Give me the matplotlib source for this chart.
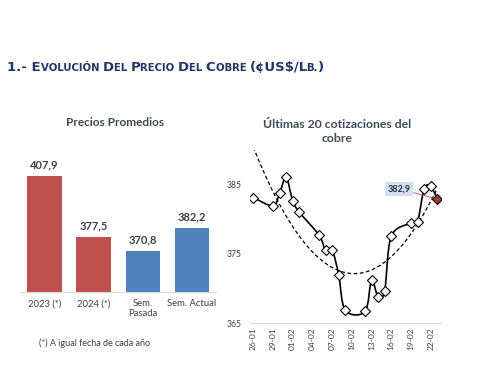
import numpy as np
import pandas as pd
import matplotlib
matplotlib.use("Agg")
from matplotlib import pyplot as plt
import matplotlib.dates as mdates
from matplotlib.path import Path
from matplotlib.patches import PathPatch

# --- data ---
bar_labels = ["2023 (*)", "2024 (*)", "Sem.\nPasada", "Sem. Actual"]
bar_values = [407.9, 377.5, 370.8, 382.2]
bar_colors = ["#C0504D", "#C0504D", "#4F81BD", "#4F81BD"]

quote_dates = ["2024-01-26", "2024-01-29", "2024-01-30", "2024-01-31", "2024-02-01",
               "2024-02-02", "2024-02-05", "2024-02-06", "2024-02-07", "2024-02-08",
               "2024-02-09", "2024-02-12", "2024-02-13", "2024-02-14", "2024-02-15",
               "2024-02-16", "2024-02-19", "2024-02-20", "2024-02-21", "2024-02-22",
               "2024-02-23"]
quote_values = [383.1, 381.9, 383.7, 386.0, 382.6, 381.0, 377.7, 375.5, 375.5, 372.0,
                366.9, 366.7, 371.2, 368.8, 369.7, 377.5, 379.4, 379.6, 384.3, 384.7,
                382.9]

txt = "#404040"
title_col = "#1F3864"
chart_font = "Lato"

fig = plt.figure(figsize=(4.91, 3.82), dpi=100)

# --- small caps title ---
big, small = 9.5, 7.3
pieces = [("1.- E", big), ("VOLUCIÓN ", small), ("D", big), ("EL ", small),
          ("P", big), ("RECIO ", small), ("D", big), ("EL ", small),
          ("C", big), ("OBRE ", small), ("(¢US$/L", big), ("B.", small), (")", big)]
renderer = fig.canvas.get_renderer()
x = 7.0
for s, size in pieces:
    t = fig.text(x / fig.bbox.width, 1 - 71 / 382, s, fontsize=size, fontweight="bold",
                 color=title_col, family="DejaVu Sans", va="baseline", ha="left")
    bb = t.get_window_extent(renderer=renderer)
    x = bb.x1 - (1.5 if s.endswith("L") else 0)

# --- bar chart ---
ax1 = fig.add_axes([20 / 491, 1 - 292.3 / 382, 196.3 / 491, 80 * 2.005 / 382])
xs = np.arange(len(bar_values))
ax1.bar(xs, [v - 350 for v in bar_values], bottom=350, width=0.7, color=bar_colors)
ax1.set_xlim(-0.5, 3.5)
ax1.set_ylim(350, 430)
for xi, v in zip(xs, bar_values):
    ax1.annotate(f"{v:.1f}".replace(".", ","), (xi, v), xytext=(0, 4),
                 textcoords="offset points", ha="center", va="bottom",
                 fontsize=8, fontweight="bold", color=txt, family=chart_font)
ax1.set_xticks(xs)
ax1.set_xticklabels(bar_labels, fontsize=6.8, color=txt, family=chart_font,
                    linespacing=1.1, va="top")
ax1.tick_params(axis="x", length=0, pad=5)
ax1.set_yticks([])
for sp in ["left", "right", "top"]:
    ax1.spines[sp].set_visible(False)
ax1.spines["bottom"].set_color("#D9D9D9")
ax1.patch.set_alpha(0)
fig.text(115 / 491, 1 - 122 / 382, "Precios Promedios", ha="center", va="center",
         fontsize=8.5, fontweight="bold", color="#3F4A57", family=chart_font)
fig.text(95 / 491, 1 - 343 / 382, "(*) A igual fecha de cada año", ha="center",
         va="center", fontsize=6.5, color=txt, family=chart_font)

# --- line chart ---
ax2 = fig.add_axes([250 / 491, 1 - 323.3 / 382, 190.5 / 491, 25 * 6.95 / 382])
dates = pd.to_datetime(quote_dates)
xd = mdates.date2num(dates)
yv = np.array(quote_values)

# trend line (2nd order polynomial)
coef = np.polyfit(xd - xd[0], yv, 2)
xt = np.linspace(xd[0], xd[-1], 200)
ax2.plot(xt, np.polyval(coef, xt - xd[0]), ls=(0, (3, 2)), color="black", lw=0.9)

# smoothed line through the points (Excel style bezier)
pts = np.column_stack([xd, yv])
verts = [pts[0]]
codes = [Path.MOVETO]
for i in range(len(pts) - 1):
    p0 = pts[max(i - 1, 0)]
    p1 = pts[i]
    p2 = pts[i + 1]
    p3 = pts[min(i + 2, len(pts) - 1)]
    c1 = p1 + (p2 - p0) / 6
    c2 = p2 - (p3 - p1) / 6
    verts += [c1, c2, p2]
    codes += [Path.CURVE4] * 3
ax2.add_patch(PathPatch(Path(verts, codes), fill=False, lw=1.2, color="black"))
ax2.plot(xd[:-1], yv[:-1], ls="", marker="D", ms=5.3, mfc="white", mec="black", mew=0.8)
ax2.plot(xd[-1:], yv[-1:], ls="", marker="D", ms=5.3, mfc="#A03A36", mec="black", mew=0.8)
ax2.annotate(f"{yv[-1]:.1f}".replace(".", ","), (xd[-1], yv[-1]), xytext=(-38, 10),
             textcoords="offset pixels", ha="center", va="center", fontsize=6.5,
             fontweight="bold", color="#1F2F45", family=chart_font,
             bbox=dict(boxstyle="square,pad=0.3", fc="#D3DFEE", ec="none"),
             arrowprops=dict(arrowstyle="-", color="#C0504D", lw=0.6, shrinkA=0, shrinkB=2))

ax2.set_xlim(mdates.date2num(pd.Timestamp("2024-01-25 12:00")),
             mdates.date2num(pd.Timestamp("2024-02-23 12:00")))
ax2.set_ylim(365, 390)
ax2.set_yticks([365, 375, 385])
ax2.set_xticks(pd.date_range("2024-01-26", "2024-02-22", freq="3D"))
ax2.xaxis.set_major_formatter(mdates.DateFormatter("%d-%m"))
ax2.tick_params(axis="x", length=0, pad=3, labelsize=6, labelcolor=txt, rotation=90)
ax2.tick_params(axis="y", length=0, pad=6, labelsize=6.2, labelcolor=txt)
for lab in ax2.get_xticklabels() + ax2.get_yticklabels():
    lab.set_family(chart_font)
for sp in ["left", "right", "top"]:
    ax2.spines[sp].set_visible(False)
ax2.spines["bottom"].set_color("#D9D9D9")
ax2.patch.set_alpha(0)
fig.text(337 / 491, 1 - 131.5 / 382, "Últimas 20 cotizaciones del\ncobre", ha="center",
         va="center", fontsize=8.8, fontweight="bold", color="#3F4A57",
         family=chart_font, linespacing=1.25)

fig.savefig("out.png", dpi=100)
